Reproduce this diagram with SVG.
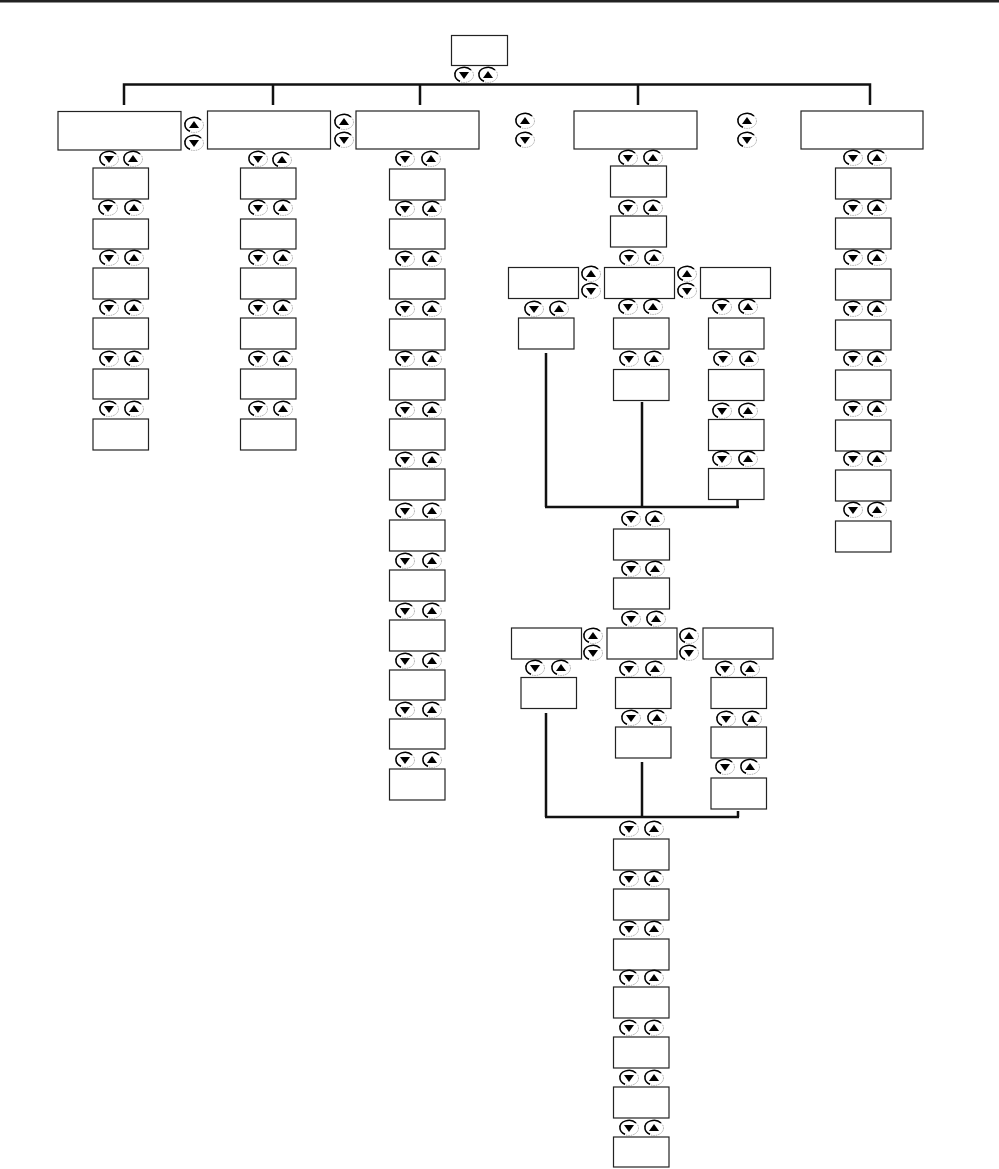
<svg xmlns="http://www.w3.org/2000/svg" width="999" height="1169" viewBox="0 0 999 1169">
<style>
.n{fill:#fff;stroke:#222;stroke-width:1.2}
.c{fill:none;stroke:#111;stroke-width:2.5}
.r{fill:#fff;stroke:#aaa;stroke-width:1;stroke-dasharray:1.5 1}
.a{fill:none;stroke:#000;stroke-width:1.5}
</style>
<defs>
<g id="u"><ellipse class="r" rx="9.500" ry="7.500"/><path class="a" d="M7 -5A9 7 0 0 0 -9 0A9 7 0 0 0 -4 6.200"/><path d="M-5 3H5L0 -4Z"/></g>
<g id="d"><ellipse class="r" rx="9.500" ry="7.500"/><path class="a" d="M7 -5A9 7 0 0 0 -9 0A9 7 0 0 0 -4 6.200"/><path d="M-5 -3H5L0 4Z"/></g>
</defs>
<rect width="999" height="2.500" fill="#222"/>
<g id="connectors">
<path class="c" d="M124 105V84.500H870V105M273 84.500V105M420 84.500V105M638 84.500V105"/>
<path class="c" d="M546 353V507M642 402V507M737.500 500V507M545 507H739"/>
<path class="c" d="M546 713V817M642 762V817M738 811V817M545 817H739"/>
</g>
<g id="top"><rect class="n" x="451.500" y="35.500" width="56" height="30"/><use href="#d" x="464" y="75"/><use href="#u" x="488" y="75"/></g>
<g id="col1">
<rect class="n" x="58" y="111.500" width="123" height="38.500"/><use href="#u" x="194" y="125"/><use href="#d" x="194" y="143"/>
<g><use href="#d" x="109" y="159"/><use href="#u" x="133" y="159"/><rect class="n" x="93" y="168" width="55.500" height="31"/></g>
<g><use href="#d" x="108" y="208"/><use href="#u" x="134" y="208"/><rect class="n" x="93" y="219" width="55.500" height="30"/></g>
<g><use href="#d" x="109" y="258"/><use href="#u" x="134" y="258"/><rect class="n" x="93" y="268" width="55.500" height="31"/></g>
<g><use href="#d" x="109" y="308"/><use href="#u" x="134" y="308"/><rect class="n" x="93" y="318" width="55.500" height="31"/></g>
<g><use href="#d" x="109" y="359"/><use href="#u" x="134" y="359"/><rect class="n" x="93" y="369" width="55.500" height="30"/></g>
<g><use href="#d" x="109" y="409"/><use href="#u" x="134" y="409"/><rect class="n" x="93" y="419" width="55.500" height="31"/></g>
</g>
<g id="col2">
<rect class="n" x="207.500" y="111" width="123" height="38"/><use href="#u" x="344" y="122"/><use href="#d" x="344" y="140"/>
<g><use href="#d" x="258" y="159"/><use href="#u" x="282" y="160"/><rect class="n" x="240.500" y="168" width="55.500" height="31"/></g>
<g><use href="#d" x="258" y="208"/><use href="#u" x="283" y="208"/><rect class="n" x="240.500" y="219" width="55.500" height="30"/></g>
<g><use href="#d" x="258" y="258"/><use href="#u" x="283" y="258"/><rect class="n" x="240.500" y="268" width="55.500" height="31"/></g>
<g><use href="#d" x="258" y="308"/><use href="#u" x="283" y="308"/><rect class="n" x="240.500" y="318" width="55.500" height="31"/></g>
<g><use href="#d" x="258" y="359"/><use href="#u" x="283" y="359"/><rect class="n" x="240.500" y="369" width="55.500" height="30"/></g>
<g><use href="#d" x="258" y="409"/><use href="#u" x="283" y="409"/><rect class="n" x="240.500" y="419" width="55.500" height="31"/></g>
</g>
<g id="col3">
<rect class="n" x="356" y="111" width="123" height="38"/>
<use href="#u" x="525" y="121"/><use href="#d" x="525" y="140"/>
<g><use href="#d" x="405" y="159"/><use href="#u" x="431" y="159"/><rect class="n" x="389.500" y="169" width="55.500" height="31"/></g>
<g><use href="#d" x="405" y="209"/><use href="#u" x="432" y="209"/><rect class="n" x="389.500" y="219" width="55.500" height="30"/></g>
<g><use href="#d" x="405" y="259"/><use href="#u" x="432" y="259"/><rect class="n" x="389.500" y="269" width="55.500" height="30"/></g>
<g><use href="#d" x="405" y="309"/><use href="#u" x="432" y="309"/><rect class="n" x="389.500" y="319" width="55.500" height="31"/></g>
<g><use href="#d" x="405" y="359"/><use href="#u" x="432" y="359"/><rect class="n" x="389.500" y="369" width="55.500" height="31"/></g>
<g><use href="#d" x="405" y="410"/><use href="#u" x="432" y="410"/><rect class="n" x="389.500" y="419" width="55.500" height="31"/></g>
<g><use href="#d" x="405" y="460"/><use href="#u" x="432" y="460"/><rect class="n" x="389.500" y="469" width="55.500" height="31"/></g>
<g><use href="#d" x="405" y="511"/><use href="#u" x="432" y="511"/><rect class="n" x="389.500" y="520" width="55.500" height="31"/></g>
<g><use href="#d" x="405" y="561"/><use href="#u" x="432" y="561"/><rect class="n" x="389.500" y="570" width="55.500" height="31"/></g>
<g><use href="#d" x="405" y="611"/><use href="#u" x="432" y="611"/><rect class="n" x="389.500" y="620" width="55.500" height="31"/></g>
<g><use href="#d" x="405" y="661"/><use href="#u" x="432" y="661"/><rect class="n" x="389.500" y="670" width="55.500" height="30"/></g>
<g><use href="#d" x="405" y="710"/><use href="#u" x="432" y="710"/><rect class="n" x="389.500" y="719" width="55.500" height="30"/></g>
<g><use href="#d" x="405" y="760"/><use href="#u" x="432" y="760"/><rect class="n" x="389.500" y="769" width="55.500" height="31"/></g>
</g>
<g id="col4">
<rect class="n" x="574" y="111" width="123" height="38"/>
<use href="#u" x="747" y="121"/><use href="#d" x="747" y="140"/>
<g><use href="#d" x="628" y="158"/><use href="#u" x="653" y="158"/><rect class="n" x="610.500" y="166" width="56" height="31"/></g>
<g><use href="#d" x="628" y="208"/><use href="#u" x="653" y="208"/><rect class="n" x="610.500" y="216" width="56" height="31"/></g>
<use href="#d" x="629" y="258"/><use href="#u" x="654" y="258"/>
</g>
<g id="branch1">
<rect class="n" x="508.500" y="267.500" width="70" height="31"/><rect class="n" x="604.500" y="267.500" width="70" height="31"/><rect class="n" x="700.500" y="267.500" width="70" height="31"/>
<use href="#u" x="591" y="274"/><use href="#d" x="591" y="291"/><use href="#u" x="687" y="274"/><use href="#d" x="687" y="291"/>
<g><use href="#d" x="534" y="309"/><use href="#u" x="559" y="309"/><rect class="n" x="518.500" y="318" width="55.500" height="31"/></g>
<g><use href="#d" x="628" y="307"/><use href="#u" x="653" y="307"/><rect class="n" x="613.500" y="318" width="55.500" height="31"/></g>
<g><use href="#d" x="629" y="359"/><use href="#u" x="654" y="359"/><rect class="n" x="613.500" y="369.500" width="55.500" height="31"/></g>
<g><use href="#d" x="722" y="307"/><use href="#u" x="748" y="307"/><rect class="n" x="708.500" y="318" width="55.500" height="31"/></g>
<g><use href="#d" x="723" y="359"/><use href="#u" x="749" y="359"/><rect class="n" x="708.500" y="369.500" width="55.500" height="31"/></g>
<g><use href="#d" x="722" y="411"/><use href="#u" x="748" y="411"/><rect class="n" x="708.500" y="419.500" width="55.500" height="31"/></g>
<g><use href="#d" x="722" y="459"/><use href="#u" x="748" y="459"/><rect class="n" x="708.500" y="468.500" width="55.500" height="31"/></g>
</g>
<g id="trunk1">
<g><use href="#d" x="631" y="519"/><use href="#u" x="655" y="519"/><rect class="n" x="613.500" y="529" width="56" height="31"/></g>
<g><use href="#d" x="631" y="569"/><use href="#u" x="655" y="569"/><rect class="n" x="613.500" y="578" width="56" height="31"/></g>
<use href="#d" x="631" y="619"/><use href="#u" x="656" y="619"/>
</g>
<g id="branch2">
<rect class="n" x="511.500" y="628" width="70" height="31"/><rect class="n" x="607" y="628" width="70" height="31"/><rect class="n" x="703" y="628" width="70" height="31"/>
<use href="#u" x="593" y="636"/><use href="#d" x="593" y="653"/><use href="#u" x="689" y="636"/><use href="#d" x="689" y="653"/>
<g><use href="#d" x="535" y="668"/><use href="#u" x="561" y="668"/><rect class="n" x="521" y="677.500" width="55.500" height="31"/></g>
<g><use href="#d" x="629" y="669"/><use href="#u" x="655" y="669"/><rect class="n" x="615.500" y="677.500" width="55.500" height="31"/></g>
<g><use href="#d" x="631" y="718"/><use href="#u" x="657" y="718"/><rect class="n" x="615.500" y="727" width="55.500" height="31"/></g>
<g><use href="#d" x="725" y="669"/><use href="#u" x="750" y="669"/><rect class="n" x="711" y="677.500" width="55.500" height="31"/></g>
<g><use href="#d" x="726" y="719"/><use href="#u" x="752" y="719"/><rect class="n" x="711" y="727" width="55.500" height="31"/></g>
<g><use href="#d" x="725" y="767"/><use href="#u" x="750" y="767"/><rect class="n" x="711" y="778" width="55.500" height="31"/></g>
</g>
<g id="trunk2">
<g><use href="#d" x="629" y="829"/><use href="#u" x="654" y="829"/><rect class="n" x="613.500" y="839" width="55.500" height="31"/></g>
<g><use href="#d" x="629" y="879"/><use href="#u" x="654" y="879"/><rect class="n" x="613.500" y="889" width="55.500" height="31"/></g>
<g><use href="#d" x="629" y="929"/><use href="#u" x="654" y="929"/><rect class="n" x="613.500" y="939" width="55.500" height="31"/></g>
<g><use href="#d" x="629" y="978"/><use href="#u" x="654" y="978"/><rect class="n" x="613.500" y="987" width="55.500" height="31"/></g>
<g><use href="#d" x="629" y="1028"/><use href="#u" x="654" y="1028"/><rect class="n" x="613.500" y="1037" width="55.500" height="31"/></g>
<g><use href="#d" x="629" y="1078"/><use href="#u" x="654" y="1078"/><rect class="n" x="613.500" y="1087" width="55.500" height="31"/></g>
<g><use href="#d" x="629" y="1128"/><use href="#u" x="654" y="1128"/><rect class="n" x="613.500" y="1137" width="55.500" height="30"/></g>
</g>
<g id="col5">
<rect class="n" x="801" y="111" width="122" height="38"/>
<g><use href="#d" x="853" y="158"/><use href="#u" x="877" y="158"/><rect class="n" x="835.500" y="168" width="55.500" height="31"/></g>
<g><use href="#d" x="853" y="208"/><use href="#u" x="877" y="208"/><rect class="n" x="835.500" y="218" width="55.500" height="31"/></g>
<g><use href="#d" x="853" y="258"/><use href="#u" x="877" y="258"/><rect class="n" x="835.500" y="269" width="55.500" height="31"/></g>
<g><use href="#d" x="853" y="309"/><use href="#u" x="877" y="309"/><rect class="n" x="835.500" y="320" width="55.500" height="30"/></g>
<g><use href="#d" x="853" y="359"/><use href="#u" x="877" y="359"/><rect class="n" x="835.500" y="370" width="55.500" height="30"/></g>
<g><use href="#d" x="853" y="409"/><use href="#u" x="877" y="409"/><rect class="n" x="835.500" y="420" width="55.500" height="31"/></g>
<g><use href="#d" x="853" y="459"/><use href="#u" x="877" y="459"/><rect class="n" x="835.500" y="470" width="55.500" height="31"/></g>
<g><use href="#d" x="853" y="510"/><use href="#u" x="877" y="510"/><rect class="n" x="835.500" y="521" width="55.500" height="31"/></g>
</g>
</svg>
